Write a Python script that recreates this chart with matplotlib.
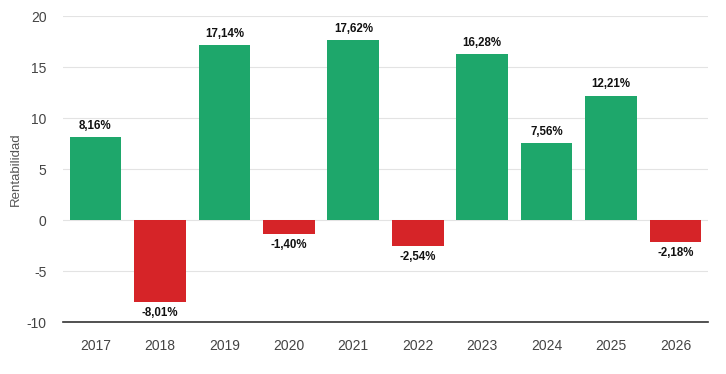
import matplotlib.pyplot as plt

plt.rcParams['font.family'] = ['Liberation Sans', 'DejaVu Sans']
plt.rcParams['axes.unicode_minus'] = False

years = ['2017', '2018', '2019', '2020', '2021', '2022', '2023', '2024', '2025', '2026']
values = [8.16, -8.01, 17.14, -1.40, 17.62, -2.54, 16.28, 7.56, 12.21, -2.18]

green = '#1ea76b'
red = '#d62428'
colors = [green if v >= 0 else red for v in values]

fig = plt.figure(figsize=(7.26, 3.74), dpi=100)
ax = fig.add_axes([0.087, 0.139, 0.888, 0.818])

x = range(len(years))
ax.bar(x, values, width=0.8, color=colors, zorder=2)

for i, v in enumerate(values):
    txt = '{:.2f}%'.format(v).replace('.', ',')
    if v >= 0:
        ax.text(i, v + 0.5, txt, ha='center', va='bottom', fontsize=8.3,
                fontweight='bold', color='#111111', zorder=3)
    else:
        ax.text(i, v - 0.5, txt, ha='center', va='top', fontsize=8.3,
                fontweight='bold', color='#111111', zorder=3)

ax.set_xlim(-0.5, len(years) - 0.5)
ax.set_ylim(-10, 20)
ax.set_yticks([-10, -5, 0, 5, 10, 15, 20])
ax.set_xticks(list(x))
ax.set_xticklabels(years)
ax.tick_params(axis='both', length=0, labelsize=10, labelcolor='#444444')
ax.tick_params(axis='x', pad=12)
ax.tick_params(axis='y', pad=12)
ax.grid(axis='y', color='#e3e3e3', linewidth=0.8, zorder=0)
ax.set_axisbelow(True)

for s in ['top', 'right', 'left']:
    ax.spines[s].set_visible(False)
ax.spines['bottom'].set_color('#333333')
ax.spines['bottom'].set_linewidth(1.2)

ax.set_ylabel('Rentabilidad', fontsize=9.5, color='#555555', labelpad=3)

fig.savefig('out.png', dpi=100)
